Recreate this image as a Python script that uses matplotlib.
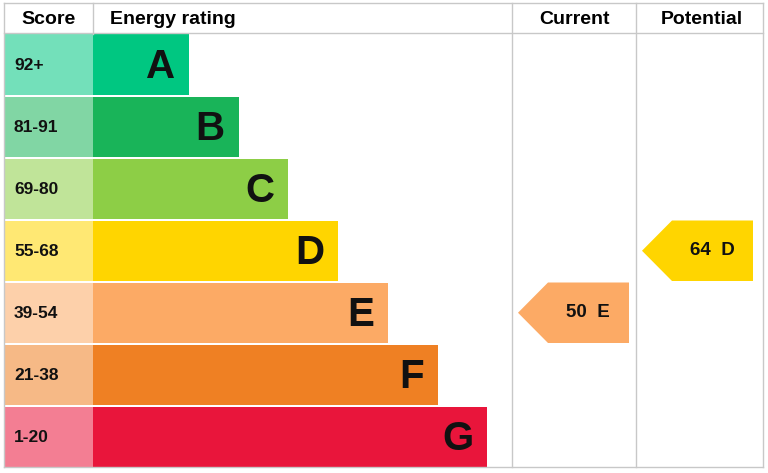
import matplotlib
matplotlib.use("Agg")
import matplotlib.pyplot as plt
from matplotlib.patches import Rectangle, Polygon
import matplotlib.colors as mc

bands = ["A", "B", "C", "D", "E", "F", "G"]
scores = ["92+", "81-91", "69-80", "55-68", "39-54", "21-38", "1-20"]
colors = ["#00c781", "#19b459", "#8dce46", "#ffd500", "#fcaa65", "#ef8023", "#e9153b"]
current_value, current_band = 50, "E"
potential_value, potential_band = 64, "D"

plt.rcParams['font.family'] = ['Liberation Sans', 'DejaVu Sans']
fig = plt.figure(figsize=(7.68, 4.73), dpi=100)
ax = fig.add_axes([0, 0, 1, 1])
ax.set_xlim(0, 768); ax.set_ylim(473, 0); ax.axis("off")

def light(c, f=0.45):
    r = mc.to_rgb(c)
    return tuple(x + (1 - x) * f for x in r)

top, rowh = 34.5, 62.0
x0, xs, xc, xp, xe = 4, 93, 512, 636, 763
lc = "#c8c8c8"
# header
ax.text(48, 19, "Score", ha="center", va="center", fontsize=14, fontweight="bold")
ax.text(110, 19, "Energy rating", ha="left", va="center", fontsize=14, fontweight="bold")
ax.text(574, 19, "Current", ha="center", va="center", fontsize=14, fontweight="bold")
ax.text(702, 19, "Potential", ha="center", va="center", fontsize=14, fontweight="bold")
for i, (b, s, c) in enumerate(zip(bands, scores, colors)):
    y = top + i * rowh
    ax.add_patch(Rectangle((x0, y), xs - x0, rowh - 1.5, color=light(c), lw=0))
    w = 96 + 49.7 * i
    ax.add_patch(Rectangle((xs, y), w, rowh - 1.5, color=c, lw=0))
    ax.text(14, y + rowh / 2, s, ha="left", va="center", fontsize=12.5, fontweight="bold", color="#111")
    ax.text(xs + w - 14, y + rowh / 2 + 1, b, ha="right", va="center", fontsize=29, fontweight="bold", color="#111")

def arrow(xl, val, band):
    i = bands.index(band)
    y = top + i * rowh
    h = rowh - 1.5
    xr = xl + 111
    pts = [(xl, y + h / 2), (xl + 30, y), (xr, y), (xr, y + h), (xl + 30, y + h)]
    ax.add_patch(Polygon(pts, closed=True, color=colors[i], lw=0))
    ax.text(xl + 70, y + h / 2, f"{val}  {band}", ha="center", va="center", fontsize=13.5, fontweight="bold", color="#111")

arrow(518, current_value, current_band)
arrow(642, potential_value, potential_band)

# grid lines
bot = top + 7 * rowh - 1.5
for x in (x0, xs, xc, xp, xe):
    ax.plot([x, x], [3, bot if x in (x0, xc, xp, xe) else top], color=lc, lw=1)
ax.plot([x0, xe], [3, 3], color=lc, lw=1)
ax.plot([x0, xe], [top - 1, top - 1], color=lc, lw=1)
ax.plot([x0, xe], [bot, bot], color=lc, lw=1)
fig.savefig("out.png", dpi=100)
